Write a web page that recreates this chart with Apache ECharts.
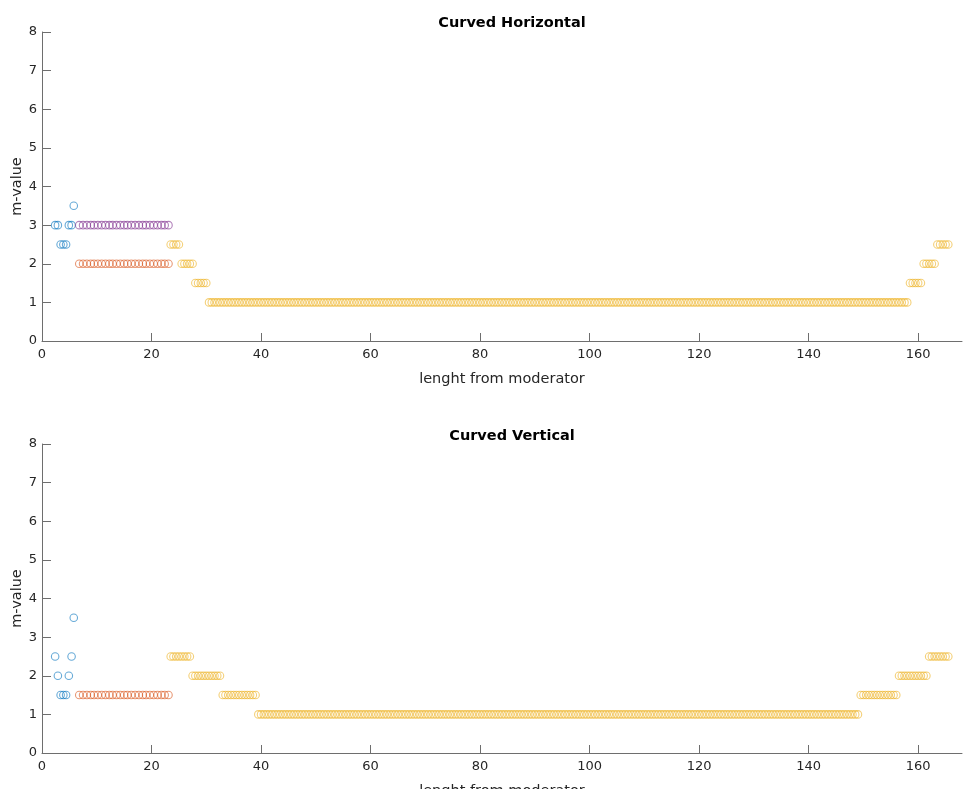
<!DOCTYPE html>
<html>
    <head>
        <meta charset="utf-8">
        <script src="https://cdn.jsdelivr.net/npm/echarts@6/dist/echarts.min.js"></script>
        <style>
            html, body { margin: 0; padding: 0; background: #fff; }
            #main { width: 964px; height: 789px; }
        </style>
    </head>
    <body>
        <div id="main"></div>
        <script>

        // sample positions of the first few probes (series 1)
        var blueX = [2.4, 2.9, 3.4, 3.9, 4.4, 4.9, 5.4, 5.8];
        var blueHorizontal = [3, 3, 2.5, 2.5, 2.5, 3, 3, 3.5];
        var blueVertical = [2.5, 2, 1.5, 1.5, 1.5, 2, 2.5, 3.5];

        // series 2 and 4 share the same positions
        var midX = [6.8, 7.5, 8.2, 8.9, 9.5, 10.2, 10.9, 11.6, 12.3, 12.9, 13.6, 14.3, 15.0,
            15.6, 16.3, 17.0, 17.7, 18.4, 19.0, 19.7, 20.4, 21.1, 21.8, 22.4, 23.1];
        var redHorizontal = 2;
        var purpleHorizontal = 3;
        var redVertical = 1.5;

        // series 3: m-value level of each run and the positions in it
        var yellowLevelsH = [2.5, 2, 1.5, 1, 1.5, 2, 2.5];
        var yellowXH = [
            [23.5, 24, 24.5, 25],
            [25.5, 26, 26.5, 27, 27.5],
            [28, 28.5, 29, 29.5, 30],
            [30.5, 31, 31.5, 32, 32.5, 33, 33.5, 34, 34.5, 35, 35.5, 36, 36.5, 37, 37.5, 38, 38.5, 39, 39.5, 40,
             40.5, 41, 41.5, 42, 42.5, 43, 43.5, 44, 44.5, 45, 45.5, 46, 46.5, 47, 47.5, 48, 48.5, 49, 49.5, 50,
             50.5, 51, 51.5, 52, 52.5, 53, 53.5, 54, 54.5, 55, 55.5, 56, 56.5, 57, 57.5, 58, 58.5, 59, 59.5, 60,
             60.5, 61, 61.5, 62, 62.5, 63, 63.5, 64, 64.5, 65, 65.5, 66, 66.5, 67, 67.5, 68, 68.5, 69, 69.5, 70,
             70.5, 71, 71.5, 72, 72.5, 73, 73.5, 74, 74.5, 75, 75.5, 76, 76.5, 77, 77.5, 78, 78.5, 79, 79.5, 80,
             80.5, 81, 81.5, 82, 82.5, 83, 83.5, 84, 84.5, 85, 85.5, 86, 86.5, 87, 87.5, 88, 88.5, 89, 89.5, 90,
             90.5, 91, 91.5, 92, 92.5, 93, 93.5, 94, 94.5, 95, 95.5, 96, 96.5, 97, 97.5, 98, 98.5, 99, 99.5, 100,
             100.5, 101, 101.5, 102, 102.5, 103, 103.5, 104, 104.5, 105, 105.5, 106, 106.5, 107, 107.5, 108, 108.5, 109, 109.5, 110,
             110.5, 111, 111.5, 112, 112.5, 113, 113.5, 114, 114.5, 115, 115.5, 116, 116.5, 117, 117.5, 118, 118.5, 119, 119.5, 120,
             120.5, 121, 121.5, 122, 122.5, 123, 123.5, 124, 124.5, 125, 125.5, 126, 126.5, 127, 127.5, 128, 128.5, 129, 129.5, 130,
             130.5, 131, 131.5, 132, 132.5, 133, 133.5, 134, 134.5, 135, 135.5, 136, 136.5, 137, 137.5, 138, 138.5, 139, 139.5, 140,
             140.5, 141, 141.5, 142, 142.5, 143, 143.5, 144, 144.5, 145, 145.5, 146, 146.5, 147, 147.5, 148, 148.5, 149, 149.5, 150,
             150.5, 151, 151.5, 152, 152.5, 153, 153.5, 154, 154.5, 155, 155.5, 156, 156.5, 157, 157.5, 158],
            [158.5, 159, 159.5, 160, 160.5],
            [161, 161.5, 162, 162.5, 163],
            [163.5, 164, 164.5, 165, 165.5]
        ];

        var yellowLevelsV = [2.5, 2, 1.5, 1, 1.5, 2, 2.5];
        var yellowXV = [
            [23.5, 24, 24.5, 25, 25.5, 26, 26.5, 27],
            [27.5, 28, 28.5, 29, 29.5, 30, 30.5, 31, 31.5, 32, 32.5],
            [33, 33.5, 34, 34.5, 35, 35.5, 36, 36.5, 37, 37.5, 38, 38.5, 39],
            [39.5, 40,
             40.5, 41, 41.5, 42, 42.5, 43, 43.5, 44, 44.5, 45, 45.5, 46, 46.5, 47, 47.5, 48, 48.5, 49, 49.5, 50,
             50.5, 51, 51.5, 52, 52.5, 53, 53.5, 54, 54.5, 55, 55.5, 56, 56.5, 57, 57.5, 58, 58.5, 59, 59.5, 60,
             60.5, 61, 61.5, 62, 62.5, 63, 63.5, 64, 64.5, 65, 65.5, 66, 66.5, 67, 67.5, 68, 68.5, 69, 69.5, 70,
             70.5, 71, 71.5, 72, 72.5, 73, 73.5, 74, 74.5, 75, 75.5, 76, 76.5, 77, 77.5, 78, 78.5, 79, 79.5, 80,
             80.5, 81, 81.5, 82, 82.5, 83, 83.5, 84, 84.5, 85, 85.5, 86, 86.5, 87, 87.5, 88, 88.5, 89, 89.5, 90,
             90.5, 91, 91.5, 92, 92.5, 93, 93.5, 94, 94.5, 95, 95.5, 96, 96.5, 97, 97.5, 98, 98.5, 99, 99.5, 100,
             100.5, 101, 101.5, 102, 102.5, 103, 103.5, 104, 104.5, 105, 105.5, 106, 106.5, 107, 107.5, 108, 108.5, 109, 109.5, 110,
             110.5, 111, 111.5, 112, 112.5, 113, 113.5, 114, 114.5, 115, 115.5, 116, 116.5, 117, 117.5, 118, 118.5, 119, 119.5, 120,
             120.5, 121, 121.5, 122, 122.5, 123, 123.5, 124, 124.5, 125, 125.5, 126, 126.5, 127, 127.5, 128, 128.5, 129, 129.5, 130,
             130.5, 131, 131.5, 132, 132.5, 133, 133.5, 134, 134.5, 135, 135.5, 136, 136.5, 137, 137.5, 138, 138.5, 139, 139.5, 140,
             140.5, 141, 141.5, 142, 142.5, 143, 143.5, 144, 144.5, 145, 145.5, 146, 146.5, 147, 147.5, 148, 148.5, 149],
            [149.5, 150, 150.5, 151, 151.5, 152, 152.5, 153, 153.5, 154, 154.5, 155, 155.5, 156],
            [156.5, 157, 157.5, 158, 158.5, 159, 159.5, 160, 160.5, 161, 161.5],
            [162, 162.5, 163, 163.5, 164, 164.5, 165, 165.5]
        ];

        var titles = ['Curved Horizontal', 'Curved Vertical'];
        var xTicks = [0, 20, 40, 60, 80, 100, 120, 140, 160];

        var colors = ['#0072BD', '#D95319', '#EDB120', '#7E2F8E'];
        var font = 'DejaVu Sans';
        var textColor = '#262626';
        var lineColor = '#6e6e6e';

        function pairs(xs, ys) {
            return xs.map(function (x, i) {
                return [x, Array.isArray(ys) ? ys[i] : ys];
            });
        }
        function runs(levels, xs) {
            var out = [];
            levels.forEach(function (lv, i) {
                xs[i].forEach(function (x) { out.push([x, lv]); });
            });
            return out;
        }
        function scatter(idx, color, data) {
            return {
                type: 'scatter',
                xAxisIndex: idx,
                yAxisIndex: idx,
                data: data,
                symbol: 'circle',
                symbolSize: 7.5,
                silent: true,
                itemStyle: {
                    color: 'rgba(255,255,255,0)',
                    borderColor: color,
                    borderWidth: 1.1,
                    opacity: 0.6
                }
            };
        }
        function xAxis(idx) {
            return {
                gridIndex: idx,
                type: 'value',
                min: 0,
                max: 168,
                interval: 20,
                name: 'lenght from moderator',
                nameLocation: 'middle',
                nameGap: 31,
                nameMoveOverlap: false,
                nameTextStyle: { fontFamily: font, fontSize: 14.5, color: textColor },
                axisLine: { show: true, onZero: false, lineStyle: { color: lineColor, width: 1 } },
                axisTick: { show: true, inside: true, length: 8, lineStyle: { color: lineColor } },
                axisLabel: {
                    fontFamily: font, fontSize: 13, color: textColor, margin: 7,
                    showMaxLabel: false,
                    formatter: function (v) { return xTicks.indexOf(v) >= 0 ? String(v) : ''; }
                },
                splitLine: { show: false }
            };
        }
        function yAxis(idx) {
            return {
                gridIndex: idx,
                type: 'value',
                min: 0,
                max: 8,
                interval: 1,
                name: 'm-value',
                nameLocation: 'middle',
                nameRotate: 90,
                nameGap: 17,
                nameMoveOverlap: false,
                nameTextStyle: { fontFamily: font, fontSize: 14.5, color: textColor },
                axisLine: { show: true, lineStyle: { color: lineColor, width: 1 } },
                axisTick: { show: true, inside: true, length: 9, lineStyle: { color: lineColor } },
                axisLabel: { fontFamily: font, fontSize: 13, color: textColor, margin: 5 },
                splitLine: { show: false }
            };
        }

        var chart = echarts.init(document.getElementById('main'), null, { renderer: 'canvas' });

        chart.setOption({
            animation: false,
            backgroundColor: '#fff',
            title: [
                { text: titles[0], left: 507, top: 11, textAlign: 'center',
                  textStyle: { fontFamily: font, fontSize: 14.5, fontWeight: 'bold', color: '#000' } },
                { text: titles[1], left: 507, top: 424, textAlign: 'center',
                  textStyle: { fontFamily: font, fontSize: 14.5, fontWeight: 'bold', color: '#000' } }
            ],
            grid: [
                { left: 42, top: 32, width: 920, height: 309, outerBoundsMode: 'none', containLabel: false },
                { left: 42, top: 444, width: 920, height: 309, outerBoundsMode: 'none', containLabel: false }
            ],
            xAxis: [xAxis(0), xAxis(1)],
            yAxis: [yAxis(0), yAxis(1)],
            series: [
                scatter(0, colors[0], pairs(blueX, blueHorizontal)),
                scatter(0, colors[1], pairs(midX, redHorizontal)),
                scatter(0, colors[2], runs(yellowLevelsH, yellowXH)),
                scatter(0, colors[3], pairs(midX, purpleHorizontal)),
                scatter(1, colors[0], pairs(blueX, blueVertical)),
                scatter(1, colors[1], pairs(midX, redVertical)),
                scatter(1, colors[2], runs(yellowLevelsV, yellowXV))
            ]
        });

        window.onresize = chart.resize;

        </script>
    </body>
</html>
